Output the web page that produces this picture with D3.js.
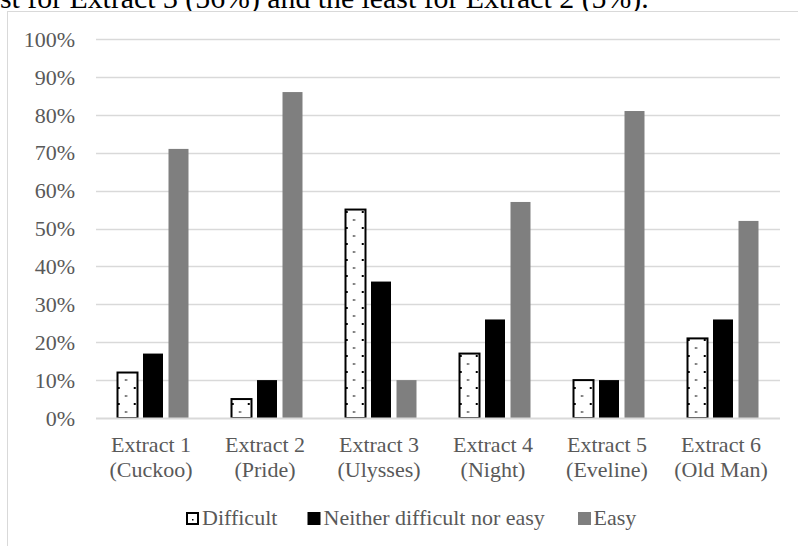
<!DOCTYPE html>
<html>
<head>
<meta charset="utf-8">
<script src="https://cdn.jsdelivr.net/npm/d3@7"></script>
<style>
  html, body { margin: 0; padding: 0; background: #fff; overflow: hidden; }
  svg { display: block; }
</style>
</head>
<body>
<svg id="chart" width="798" height="546"></svg>
<script>
const categories = [
  ["Extract 1", "(Cuckoo)"],
  ["Extract 2", "(Pride)"],
  ["Extract 3", "(Ulysses)"],
  ["Extract 4", "(Night)"],
  ["Extract 5", "(Eveline)"],
  ["Extract 6", "(Old Man)"]
];
const seriesNames = ["Difficult", "Neither difficult nor easy", "Easy"];
const difficult = [12, 5, 55, 17, 10, 21];
const neither = [17, 10, 36, 26, 10, 26];
const easy = [71, 86, 10, 57, 81, 52];
const yTicks = [0, 10, 20, 30, 40, 50, 60, 70, 80, 90, 100];
const captionText = "st for Extract 3 (56%) and the least for Extract 2 (5%).";

const seriesValues = [difficult, neither, easy];

const svg = d3.select("#chart");
const serif = "'Liberation Serif', 'Times New Roman', 'DejaVu Serif', serif";
const fs = 22;

// pattern for "Difficult"
const defs = svg.append("defs");
const pat = defs.append("pattern")
  .attr("id", "dots").attr("patternUnits", "userSpaceOnUse")
  .attr("width", 16).attr("height", 16);
pat.append("rect").attr("width", 16).attr("height", 16).attr("fill", "#fff");
pat.append("rect").attr("x", 3).attr("y", 3).attr("width", 2).attr("height", 2).attr("fill", "#000");
pat.append("rect").attr("x", 10).attr("y", 11.5).attr("width", 2.5).attr("height", 1).attr("fill", "#000");

const fills = ["url(#dots)", "#000000", "#7f7f7f"];

// caption text (cut off at the top, as in the source page)
svg.append("text")
  .attr("x", 0).attr("y", 7.5)
  .attr("font-family", serif).attr("font-size", 29.8)
  .attr("fill", "#000")
  .text(captionText);

// chart border
svg.append("rect")
  .attr("x", 7.5).attr("y", 11.5).attr("width", 800).attr("height", 600)
  .attr("fill", "#fff").attr("stroke", "#d9d9d9").attr("stroke-width", 1);

const x0 = d3.scaleBand().domain(d3.range(categories.length)).range([96, 780]);
const groupW = 76.5;
const x1 = d3.scaleBand().domain(d3.range(seriesNames.length)).range([0, groupW])
  .paddingInner(0.216).paddingOuter(0.108);
const y = d3.scaleLinear().domain([0, 100]).range([418, 39]);

// gridlines
svg.append("g").selectAll("line").data(yTicks.filter(d => d > 0)).join("line")
  .attr("x1", 96).attr("x2", 780)
  .attr("y1", d => Math.round(y(d)) + 0.5).attr("y2", d => Math.round(y(d)) + 0.5)
  .attr("stroke", "#d9d9d9").attr("stroke-width", 1.3);

// y axis labels
const yAxis = d3.axisLeft(y).tickValues(yTicks).tickFormat(d => d + "%").tickSize(0).tickPadding(0);
const gy = svg.append("g").attr("transform", "translate(75,0)").call(yAxis);
gy.select(".domain").remove();
gy.selectAll("text")
  .attr("font-family", serif).attr("font-size", fs).attr("fill", "#595959")
  .attr("dy", "0.33em");

// bars
const groups = svg.append("g").selectAll("g").data(categories).join("g")
  .attr("transform", (d, i) => `translate(${x0(i) + (x0.bandwidth() - groupW) / 2},0)`);

groups.each(function(c, i) {
  const g = d3.select(this);
  seriesValues.forEach((vals, s) => {
    const r = g.append("rect")
      .attr("x", x1(s)).attr("width", x1.bandwidth())
      .attr("y", y(vals[i])).attr("height", y(0) - y(vals[i]))
      .attr("fill", fills[s]);
    if (s === 0) r.attr("stroke", "#000").attr("stroke-width", 2);
  });
});

// x axis line
svg.append("line").attr("x1", 96).attr("x2", 780).attr("y1", 418.5).attr("y2", 418.5)
  .attr("stroke", "#d9d9d9").attr("stroke-width", 2);

// category labels
const xl = svg.append("g").selectAll("text").data(categories).join("text")
  .attr("font-family", serif).attr("font-size", fs).attr("fill", "#595959")
  .attr("text-anchor", "middle");
xl.each(function(c, i) {
  const t = d3.select(this);
  const cx = x0(i) + x0.bandwidth() / 2 - 2;
  t.append("tspan").attr("x", cx).attr("y", 451.5).text(c[0]);
  t.append("tspan").attr("x", cx).attr("y", 476.5).text(c[1]);
});

// legend
const legendItems = [
  { name: seriesNames[0], mx: 186, tx: 202 },
  { name: seriesNames[1], mx: 307.5, tx: 323.5 },
  { name: seriesNames[2], mx: 578, tx: 593.5 }
];
const lg = svg.append("g");
legendItems.forEach((it, s) => {
  if (s === 0) {
    lg.append("rect").attr("x", it.mx + 1).attr("y", 513).attr("width", 11).attr("height", 11)
      .attr("fill", "#fff").attr("stroke", "#000").attr("stroke-width", 2);
    lg.append("rect").attr("x", it.mx + 6).attr("y", 519).attr("width", 1.5).attr("height", 1.5).attr("fill", "#000");
  } else {
    lg.append("rect").attr("x", it.mx).attr("y", 512).attr("width", 13).attr("height", 13)
      .attr("fill", fills[s]);
  }
  lg.append("text").attr("x", it.tx).attr("y", 525)
    .attr("font-family", serif).attr("font-size", fs).attr("fill", "#595959")
    .text(it.name);
});
</script>
</body>
</html>
